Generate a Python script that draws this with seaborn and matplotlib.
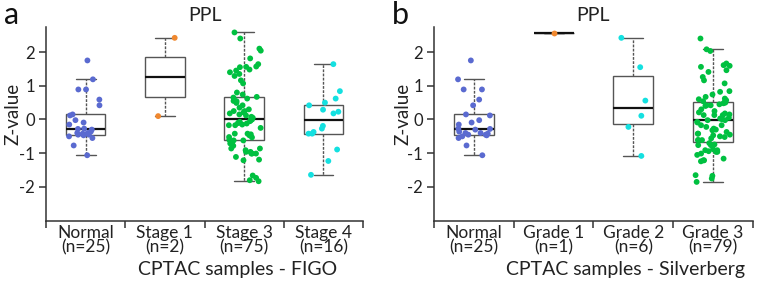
import numpy as np
import pandas as pd
import matplotlib
matplotlib.use("Agg")
import matplotlib.pyplot as plt
import seaborn as sns

# ---------------- data ----------------
figo_order = ["Normal", "Stage 1", "Stage 3", "Stage 4"]
figo_labels = ["Normal\n(n=25)", "Stage 1\n(n=2)", "Stage 3\n(n=75)", "Stage 4\n(n=16)"]
silv_order = ["Normal", "Grade 1", "Grade 2", "Grade 3"]
silv_labels = ["Normal\n(n=25)", "Grade 1\n(n=1)", "Grade 2\n(n=6)", "Grade 3\n(n=79)"]

normal_vals = [1.75, 1.19, 0.89, 0.89, 0.59, 0.42, 0.15, -0.02, 0.12, -0.09,
               -0.15, -0.27, -0.36, -0.28, -0.30, -0.45, -0.50, -0.40, -0.40,
               -0.42, -0.45, -0.55, -0.47, -0.77, -1.06]
stage1_vals = [2.42, 0.10]
stage3_vals = [2.58, 2.40, 2.10, 2.04, 1.81, 1.64, 1.57, 1.55, 1.40, 1.48,
               1.56, 1.35, 1.29, 1.16, 1.07, 1.45, 0.80, 0.74, 0.67, 0.62,
               0.54, 0.49, 0.42, 0.60, 0.25, 0.25, 0.18, 0.21, 0.15, 0.08,
               0.05, 0.01, -0.02, -0.07, -0.05, -0.10, -0.12, -0.10, -0.15, -0.17,
               -0.17, -0.25, -0.42, -0.44, -0.47, -0.53, -0.62, -0.42, -0.52, -0.60,
               -0.62, -0.70, -0.71, -0.86, -0.96, -0.78, -0.86, -0.96, -0.91, -1.01,
               -1.11, -1.19, -1.01, -1.01, -1.21, -1.73, -1.66, -1.80, -1.83,
               0.30, 0.35, 0.12, 0.55, 0.65, 0.00]
stage4_vals = [1.64, 0.84, 0.62, 0.50, 0.42, 0.29, 0.23, 0.18,
               -0.19, -0.27, -0.37, -0.42, -0.42, -0.89, -1.23, -1.64]
grade1_vals = [2.57]
grade2_vals = [2.42, 1.55, 0.56, 0.11, -0.22, -1.08]
grade3_vals = [2.40, 2.08, 2.03, 1.66, 1.56, 1.46, 1.61, 1.59, 1.41, 1.26,
               1.16, 1.07, 0.84, 0.82, 0.74, 0.67, 0.62, 0.57, 0.60, 0.54,
               0.52, 0.50, 0.42, 0.40, 0.42, 0.25, 0.21, 0.18, 0.13, 0.13,
               0.13, 0.15, 0.01, -0.02, 0.05, 0.03, -0.02, -0.07, -0.09, -0.17,
               -0.22, -0.27, -0.17, -0.45, -0.47, -0.52, -0.42, -0.32, -0.42, -0.37,
               -0.56, -0.61, -0.61, -0.74, -0.76, -0.61, -0.76, -0.88, -0.96, -0.96,
               -0.94, -0.91, -1.01, -0.91, -1.16, -1.24, -1.21, -1.21, -1.67, -1.65,
               -1.85, -1.75, 0.30, 0.45, 0.48, -0.30, -0.50, -0.70, -1.05]

colors = {"Normal": "#5a6ad0", "Stage 1": "#f0882f", "Stage 3": "#00c040",
          "Stage 4": "#14e0e0", "Grade 1": "#f0882f", "Grade 2": "#14e0e0",
          "Grade 3": "#00c040"}
whis_map = {"Normal": 2.0}

figo_df = pd.concat([pd.DataFrame({"group": g, "value": v}) for g, v in
                     zip(figo_order, [normal_vals, stage1_vals, stage3_vals, stage4_vals])])
silv_df = pd.concat([pd.DataFrame({"group": g, "value": v}) for g, v in
                     zip(silv_order, [normal_vals, grade1_vals, grade2_vals, grade3_vals])])

# ---------------- plotting ----------------
sns.set_theme(style="ticks")
plt.rcParams["font.family"] = ["Lato", "DejaVu Sans"]

fig = plt.figure(figsize=(7.57, 2.85), dpi=100)
ax1 = fig.add_axes([0.0608, 0.2256, 0.4188, 0.6807])
ax2 = fig.add_axes([0.5733, 0.2256, 0.4214, 0.6807])

np.random.seed(3)
txt = "#222222"
for ax, df, order, labels, xlabel, xl_center, ylab_x in [
        (ax1, figo_df, figo_order, figo_labels, "CPTAC samples - FIGO", 238 / 757, -0.078),
        (ax2, silv_df, silv_order, silv_labels, "CPTAC samples - Silverberg", 626 / 757, -0.071)]:
    for g in order:
        sub = df[df["group"] == g]
        sns.boxplot(data=sub, x="group", y="value", order=order, ax=ax,
                    whis=whis_map.get(g, 1.5), showfliers=False, width=0.5,
                    color="white", linecolor="#555555", linewidth=1.0,
                    boxprops=dict(facecolor="white", edgecolor="#555555"),
                    whiskerprops=dict(linestyle=(0, (2, 1)), color="#555555"),
                    capprops=dict(color="#555555"),
                    medianprops=dict(color="#111111", linewidth=1.6))
    sns.stripplot(data=df, x="group", y="value", order=order, hue="group",
                  palette=colors, jitter=0.22, size=4.2, linewidth=0, ax=ax,
                  legend=False, zorder=3)
    ax.set_xlim(-0.5, 3.5)
    ax.set_ylim(-3.0, 2.75)
    ax.set_yticks([-2, -1, 0, 1, 2])
    ax.set_yticklabels(["-2", "-1", "0", "1", "2"])
    ax.set_xticks(range(4))
    ax.set_xticklabels(labels, linespacing=0.85)
    ax.set_xticks([-0.5, 0.5, 1.5, 2.5, 3.5], minor=True)
    ax.tick_params(axis="x", which="major", length=0, pad=3, labelsize=12.5, labelcolor=txt)
    ax.tick_params(axis="x", which="minor", length=5, width=1.1, color="#333333", direction="out")
    ax.tick_params(axis="y", length=5, width=1.1, color="#333333", labelsize=12,
                   labelcolor=txt, pad=3)
    for s in ["top", "right"]:
        ax.spines[s].set_visible(False)
    for s in ["left", "bottom"]:
        ax.spines[s].set_color("#333333")
        ax.spines[s].set_linewidth(1.1)
    ax.set_xlabel("")
    ax.set_ylabel("Z-value", fontsize=13.5, color=txt)
    ax.yaxis.set_label_coords(ylab_x, 0.55)
    ax.set_title("PPL", fontsize=14, color=txt, pad=4)
    fig.text(xl_center, 1 - 270 / 285, xlabel, ha="center", va="center",
             fontsize=14, color=txt)

fig.text(12 / 757, 1 - 15 / 285, "a", ha="center", va="center", fontsize=22, color="#111111")
fig.text(400 / 757, 1 - 15 / 285, "b", ha="center", va="center", fontsize=22, color="#111111")

fig.savefig("out.png", dpi=100, facecolor="white")
